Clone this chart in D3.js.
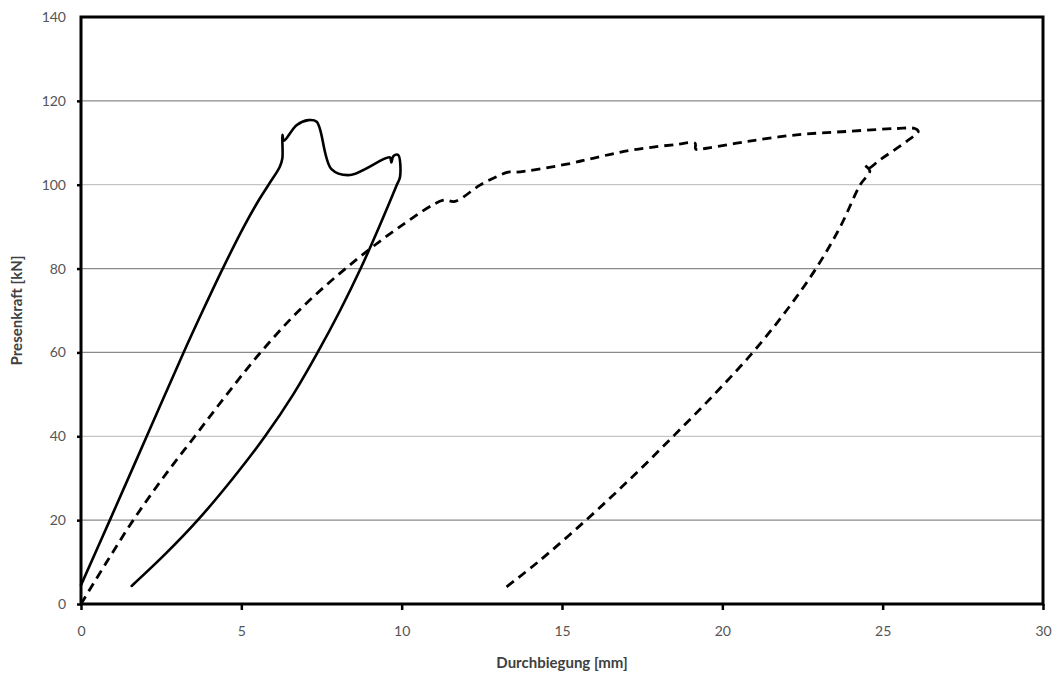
<!DOCTYPE html>
<html><head><meta charset="utf-8">
<script src="https://cdn.jsdelivr.net/npm/d3@7"></script>
<style>body{margin:0;background:#fff}svg{display:block}</style>
</head><body>
<svg id="c" width="1054" height="679"></svg>
<script>
const xTicks = [0,5,10,15,20,25,30];
const yTicks = [0,20,40,60,80,100,120,140];
const xLabel = "Durchbiegung [mm]";
const yLabel = "Presenkraft [kN]";
// Solid curve (Versuch 1): x = Durchbiegung [mm], y = Presenkraft [kN]
const solidX = [0,0.9,2.05,3.2,3.8,4.42,5.08,5.52,5.85,6.2,6.28,6.28,6.33,6.72,7.09,7.35,7.81,8.39,9.63,9.68,9.74,9.89,9.95,9.85,9.3,8.72,8.08,7.38,6.62,5.74,4.74,3.64,2.64,1.58];
const solidY = [4.5,20,40,60,70,80,90,96,100,104.3,106.3,111.9,110.5,114.2,115.4,115,103.7,102.3,106.5,105.3,106.8,107.1,101.9,100,90,80,70,60,50,40,30,20,12,4.3];
// Dashed curve (Versuch 2)
const dashX = [0,0.8,1.63,2.55,3.55,4.55,5.6,6.8,8.25,9.95,11.3,11.66,12.44,12.96,13.32,13.58,15.15,16.18,17.22,18.57,19.15,19.17,19.51,20.76,22.32,23.87,25.43,26.0,26.11,25.74,24.91,24.55,24.45,24.6,24.3,23.68,22.92,22.0,20.95,19.75,18.47,17.15,15.75,14.25,13.27];
const dashY = [0,10,20,30,40,50,60,70,80,90,96.3,96,99.9,101.9,103,103,104.9,106.7,108.3,109.6,109.9,108.5,108.7,110.3,111.9,112.7,113.4,113.4,112.7,110.3,105.9,103.9,104.6,103.3,100,90,80,70,60,50,40,30,20,10,4.1];
const lightGrid = [40,100];

const svg = d3.select("#c");
const L=81,R=1043,T=17,B=604;
const x = d3.scaleLinear().domain([0,30]).range([L,R]);
const y = d3.scaleLinear().domain([0,140]).range([B,T]);
const font = "Lato, 'Open Sans', sans-serif";

// grid
svg.append("g").selectAll("line").data(yTicks.filter(d=>d>0&&d<140)).join("line")
  .attr("x1",L).attr("x2",R).attr("y1",d=>y(d)).attr("y2",d=>y(d))
  .attr("stroke",d=>lightGrid.includes(d)?"#c4c4c4":"#8a8a8a").attr("stroke-width",1.3);

// axes
const xa = svg.append("g").attr("transform",`translate(0,${B})`)
  .call(d3.axisBottom(x).tickValues(xTicks).tickSize(6).tickPadding(16).tickFormat(d3.format("d")));
const ya = svg.append("g").attr("transform",`translate(${L},0)`)
  .call(d3.axisLeft(y).tickValues(yTicks).tickSize(4).tickPadding(11).tickFormat(d3.format("d")));
[xa,ya].forEach(a=>{
  a.select(".domain").remove();
  a.selectAll(".tick line").attr("stroke","#000").attr("stroke-width",2.5);
  a.selectAll(".tick text").attr("fill","#555").style("font-family",font).style("font-size","14px");
});
ya.selectAll(".tick line").filter(d=>d===140).remove();

// frame
svg.append("rect").attr("x",L).attr("y",T).attr("width",R-L).attr("height",B-T)
  .attr("fill","none").attr("stroke","#000").attr("stroke-width",3);

const line = d3.line().x(d=>x(d[0])).y(d=>y(d[1])).curve(d3.curveCatmullRom.alpha(0.5));
svg.append("path").datum(solidX.map((v,i)=>[v,solidY[i]])).attr("d",line)
  .attr("fill","none").attr("stroke","#000").attr("stroke-width",2.6).attr("stroke-linejoin","round").attr("stroke-linecap","round");
svg.append("path").datum(dashX.map((v,i)=>[v,dashY[i]])).attr("d",line)
  .attr("fill","none").attr("stroke","#000").attr("stroke-width",2.8).attr("stroke-dasharray","9,6").attr("stroke-linejoin","round");

svg.append("text").attr("x",(L+R)/2).attr("y",668).attr("text-anchor","middle")
  .style("font-family",font).style("font-weight","bold").style("font-size","15px").attr("fill","#404040").text(xLabel);
svg.append("text").attr("transform",`translate(22,${(T+B)/2}) rotate(-90)`).attr("text-anchor","middle")
  .style("font-family",font).style("font-weight","bold").style("font-size","15px").attr("fill","#404040").text(yLabel);
</script>
</body></html>
